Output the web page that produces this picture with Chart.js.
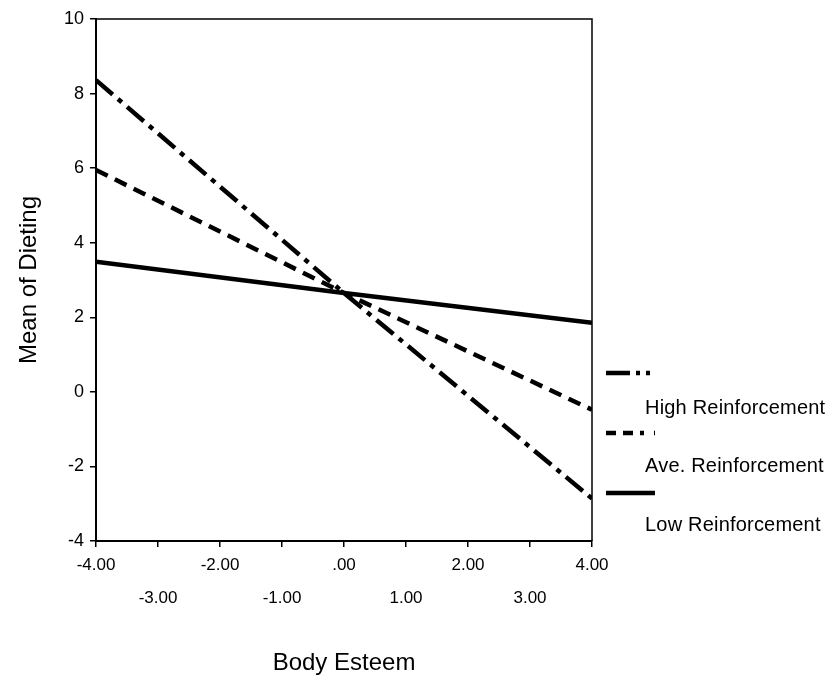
<!DOCTYPE html>
<html>
<head>
<meta charset="utf-8">
<script src="https://cdn.jsdelivr.net/npm/chart.js@4/dist/chart.umd.min.js"></script>
<style>
  html, body { margin: 0; padding: 0; background: #fff; }
  #wrap { width: 837px; height: 682px; }
</style>
</head>
<body>
<div id="wrap"><canvas id="c" width="837" height="682"></canvas></div>
<script>
// ---- data ----
const bodyEsteem = [-4, 0, 4];
const highReinforcement = [8.36, 2.65, -2.86];
const aveReinforcement = [5.95, 2.65, -0.48];
const lowReinforcement = [3.49, 2.65, 1.85];
const seriesLabels = ['High Reinforcement', 'Ave. Reinforcement', 'Low Reinforcement'];
const xTickValues = [-4, -3, -2, -1, 0, 1, 2, 3, 4];
const yTickValues = [10, 8, 6, 4, 2, 0, -2, -4];

const FONT = '"Liberation Sans", Arial, Helvetica, sans-serif';
const dashes = [[22, 7, 5, 7], [13, 8], []];

function pts(ys) { return bodyEsteem.map((x, i) => ({ x: x, y: ys[i] })); }

function fmtX(v) {
  if (v === 0) return '.00';
  return v.toFixed(2);
}

const boxPlugin = {
  id: 'box',
  afterDraw(chart) {
    const { ctx, chartArea: a } = chart;
    ctx.save();
    ctx.strokeStyle = '#000';
    ctx.lineWidth = 1.5;
    ctx.beginPath();
    ctx.moveTo(a.left, a.top);
    ctx.lineTo(a.right, a.top);
    ctx.lineTo(a.right, a.bottom);
    ctx.stroke();
    ctx.restore();
  }
};

const sideLegend = {
  id: 'sideLegend',
  afterDraw(chart) {
    const ctx = chart.ctx;
    const sampleY = [373, 433, 493];
    const labelY = [408, 466, 525];
    const legendDash = [[24, 6, 4, 6, 4, 6], [10, 7, 10, 7, 4], []];
    ctx.save();
    chart.data.datasets.forEach((ds, i) => {
      ctx.strokeStyle = '#000';
      ctx.lineWidth = 4.5;
      ctx.setLineDash(legendDash[i]);
      ctx.beginPath();
      ctx.moveTo(606, sampleY[i]);
      ctx.lineTo(655, sampleY[i]);
      ctx.stroke();
      ctx.setLineDash([]);
      ctx.fillStyle = '#000';
      ctx.font = '20px ' + FONT;
      if ('letterSpacing' in ctx) ctx.letterSpacing = '0.2px';
      ctx.textBaseline = 'middle';
      ctx.textAlign = 'left';
      ctx.fillText(ds.label, 645, labelY[i]);
    });
    ctx.restore();
  }
};

new Chart(document.getElementById('c'), {
  type: 'line',
  data: {
    datasets: [
      { label: seriesLabels[0], data: pts(highReinforcement), borderDash: dashes[0] },
      { label: seriesLabels[1], data: pts(aveReinforcement), borderDash: dashes[1] },
      { label: seriesLabels[2], data: pts(lowReinforcement), borderDash: dashes[2] }
    ].map(d => Object.assign(d, {
      borderColor: '#000', borderWidth: 4.5, pointRadius: 0, fill: false, tension: 0,
      borderCapStyle: 'butt'
    }))
  },
  options: {
    responsive: false,
    animation: false,
    events: [],
    layout: { padding: { left: 8, right: 245, top: 19, bottom: 0 } },
    plugins: { legend: { display: false }, tooltip: { enabled: false } },
    scales: {
      x: {
        type: 'linear',
        min: -4, max: 4,
        afterBuildTicks(scale) { scale.ticks = xTickValues.map(v => ({ value: v })); },
        afterFit(scale) { scale.height = 141; },
        grid: { drawOnChartArea: false, color: '#000', tickLength: 6, lineWidth: 1.5 },
        border: { color: '#000', width: 2 },
        ticks: {
          color: '#000', autoSkip: false, maxRotation: 0, padding: 2,
          font: { family: FONT, size: 17, lineHeight: 1.95 },
          callback(v) { const s = fmtX(v); return (Math.round(v) % 2 === 0) ? [s, ''] : ['', s]; }
        },
        title: {
          display: true, text: 'Body Esteem', color: '#000',
          font: { family: FONT, size: 24 }, padding: { top: 0, bottom: 4 }
        }
      },
      y: {
        type: 'linear',
        min: -4, max: 10,
        afterBuildTicks(scale) { scale.ticks = yTickValues.map(v => ({ value: v })); },
        afterFit(scale) { scale.width = 88; },
        grid: { drawOnChartArea: false, color: '#000', tickLength: 6, lineWidth: 1.5 },
        border: { color: '#000', width: 2 },
        ticks: { color: '#000', padding: 6, font: { family: FONT, size: 18 } },
        title: {
          display: true, text: 'Mean of Dieting', color: '#000',
          font: { family: FONT, size: 24 }, padding: { top: 7, bottom: 0 }
        }
      }
    }
  },
  plugins: [boxPlugin, sideLegend]
});
</script>
</body>
</html>
